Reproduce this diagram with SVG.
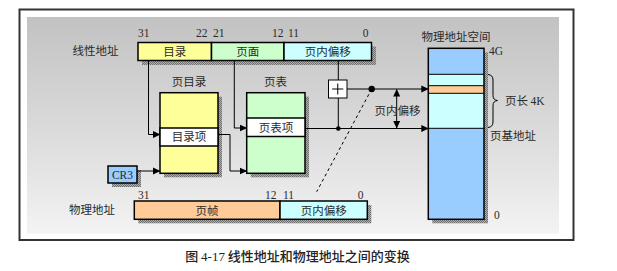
<svg xmlns="http://www.w3.org/2000/svg" width="617" height="271" viewBox="0 0 617 271">
<defs>
<linearGradient id="bg" x1="0" y1="0" x2="0" y2="1">
<stop offset="0" stop-color="#c2c2c2"/>
<stop offset="0.55" stop-color="#dcdcdc"/>
<stop offset="1" stop-color="#f3f3f3"/>
</linearGradient>
<pattern id="sh" width="2" height="2" patternUnits="userSpaceOnUse">
<rect width="2" height="2" fill="#b0b0b0"/>
<rect width="1" height="1" fill="#707070"/>
<rect x="1" y="1" width="1" height="1" fill="#707070"/>
</pattern>
<marker id="ar" markerWidth="8" markerHeight="8" refX="7" refY="4" orient="auto" markerUnits="userSpaceOnUse">
<path d="M0,0.5 L7.5,4 L0,7.5 Z" fill="#000"/>
</marker>
<marker id="as" markerWidth="8" markerHeight="8" refX="0.5" refY="4" orient="auto" markerUnits="userSpaceOnUse">
<path d="M7.5,0.5 L0,4 L7.5,7.5 Z" fill="#000"/>
</marker>
<style>
.cj{font-family:"Noto Sans CJK SC","Noto Sans",sans-serif;font-size:11.5px;fill:#2a2a2a}
.nm{font-family:"Liberation Serif","DejaVu Serif",serif;font-size:11.5px;fill:#2a2a2a}
.bx{stroke:#000;stroke-width:1.5}
.ln{stroke:#000;stroke-width:1;fill:none}
.sd{fill:url(#sh)}
.mid{text-anchor:middle}
.end{text-anchor:end}
.sf{font-family:"Liberation Serif","DejaVu Serif",serif}
</style>
</defs>
<rect x="0" y="0" width="617" height="271" fill="#fff"/>
<rect x="19.5" y="9.5" width="554" height="230.5" fill="#fff" stroke="#333" stroke-width="2"/>
<rect x="27" y="17" width="532" height="216.5" fill="url(#bg)"/>

<g id="linear-address">
<text class="cj mid" x="95.5" y="55">线性地址</text>
<rect class="sd" x="142" y="46.5" width="234" height="18.5"/>
<rect class="bx" x="138" y="42.5" width="73.5" height="18" fill="#ffff99"/>
<rect class="bx" x="211.5" y="42.5" width="72.5" height="18" fill="#ccffcc"/>
<rect class="bx" x="284" y="42.5" width="87.5" height="18" fill="#ccffff"/>
<text class="cj mid" x="174.75" y="55.5">目录</text>
<text class="cj mid" x="247.75" y="55.5">页面</text>
<text class="cj mid" x="327.75" y="55.5">页内偏移</text>
<text class="nm" x="138" y="36.5">31</text>
<text class="nm end" x="207.5" y="36.5">22</text>
<text class="nm" x="213" y="36.5">21</text>
<text class="nm end" x="283.5" y="36.5">12</text>
<text class="nm" x="288" y="36.5">11</text>
<text class="nm end" x="368.5" y="36.5">0</text>
</g>

<g id="page-directory">
<text class="cj mid" x="189" y="86">页目录</text>
<rect class="sd" x="164" y="96.7" width="58" height="80.6"/>
<rect class="bx" x="160" y="92.7" width="58" height="80.6" fill="#ffff99"/>
<rect class="bx" x="160" y="128" width="58" height="18" fill="#fff"/>
<text class="cj mid" x="189" y="141">目录项</text>
</g>

<g id="page-table">
<text class="cj mid" x="275.5" y="86">页表</text>
<rect class="sd" x="250.7" y="96.7" width="58.3" height="80.6"/>
<rect class="bx" x="246.7" y="92.7" width="58.3" height="80.6" fill="#ccffcc"/>
<rect class="bx" x="246.7" y="118" width="58.3" height="18.5" fill="#fff"/>
<text class="cj mid" x="276" y="131.5">页表项</text>
</g>

<g id="cr3">
<rect class="sd" x="112" y="170" width="29" height="17"/>
<rect class="bx" x="108" y="166" width="29" height="17" fill="#99ccff"/>
<text class="nm mid" x="122.5" y="178.5">CR3</text>
</g>

<g id="adder">
<rect x="328.5" y="80" width="18.5" height="18" fill="#fff" stroke="#000" stroke-width="1"/>
<path class="ln" d="M332.2,89 H343.3 M337.75,83.5 V94.5" stroke-width="1.2"/>
</g>

<g id="physical-address">
<text class="cj mid" x="92" y="213.5">物理地址</text>
<rect class="sd" x="138.3" y="205" width="233" height="18.3"/>
<rect class="bx" x="134.3" y="201" width="145.7" height="18.3" fill="#ffcc99"/>
<rect class="bx" x="280" y="201" width="87.3" height="18.3" fill="#ccffff"/>
<text class="cj mid" x="207" y="214.5">页帧</text>
<text class="cj mid" x="323.7" y="214.5">页内偏移</text>
<text class="nm" x="138" y="199">31</text>
<text class="nm end" x="276.5" y="199">12</text>
<text class="nm" x="283" y="199">11</text>
<text class="nm end" x="363.5" y="199">0</text>
</g>

<g id="physical-memory">
<text class="cj mid" x="456" y="41">物理地址空间</text>
<rect class="sd" x="432.3" y="52.3" width="55.7" height="171"/>
<rect x="428.3" y="48.3" width="55.7" height="26" fill="#99ccff"/>
<rect x="428.3" y="74.3" width="55.7" height="11.4" fill="#ccffff"/>
<rect x="428.3" y="85.7" width="55.7" height="7.6" fill="#ffcc99"/>
<rect x="428.3" y="93.3" width="55.7" height="35" fill="#ccffff"/>
<rect x="428.3" y="128.3" width="55.7" height="91" fill="#99ccff"/>
<path class="ln" d="M428.3,74.3 H484 M428.3,85.7 H484 M428.3,93.3 H484 M428.3,128.3 H484" stroke-width="1.2"/>
<rect x="428.3" y="48.3" width="55.7" height="171" fill="none" stroke="#000" stroke-width="1.5"/>
<text class="nm" x="489" y="55">4G</text>
<text class="nm" x="494" y="219">0</text>
<path class="ln" d="M488,74.5 Q493,75 493,80 V95.5 Q493,100 497.5,100.5 Q493,101 493,105.5 V122 Q493,127 488,127.5"/>
<text class="cj" x="505" y="105">页长 <tspan class="sf">4K</tspan></text>
<text class="cj" x="490" y="139.5">页基地址</text>
</g>

<g id="connectors">
<path class="ln" d="M148.5,60.5 V134.5 H160" marker-end="url(#ar)"/>
<path class="ln" d="M234.3,60.5 V128 H246.7" marker-end="url(#ar)"/>
<path class="ln" d="M137,171 H160" marker-end="url(#ar)"/>
<path class="ln" d="M218,134.5 H230 V171 H246.7" marker-end="url(#ar)"/>
<path class="ln" d="M305,128.5 H428.3" marker-end="url(#ar)"/>
<path class="ln" d="M338.3,60.5 V80 M338.3,98 V128.5"/>
<path class="ln" d="M347,89 H428.3" marker-end="url(#ar)"/>
<path class="ln" d="M396.7,89.5 V128" marker-start="url(#as)" marker-end="url(#ar)"/>
<path class="ln" d="M371.7,89 L316.7,191.7" stroke-dasharray="3,3"/>
<circle cx="338.3" cy="128.5" r="2.3" fill="#000"/>
<circle cx="371.7" cy="89" r="3.2" fill="#000"/>
</g>
<text class="cj mid" x="397.5" y="114.5">页内偏移</text>

<text class="cj mid" x="297.5" y="261" style="font-size:13px;font-weight:500;fill:#222">图 <tspan class="sf">4-17</tspan> 线性地址和物理地址之间的变换</text>
</svg>
